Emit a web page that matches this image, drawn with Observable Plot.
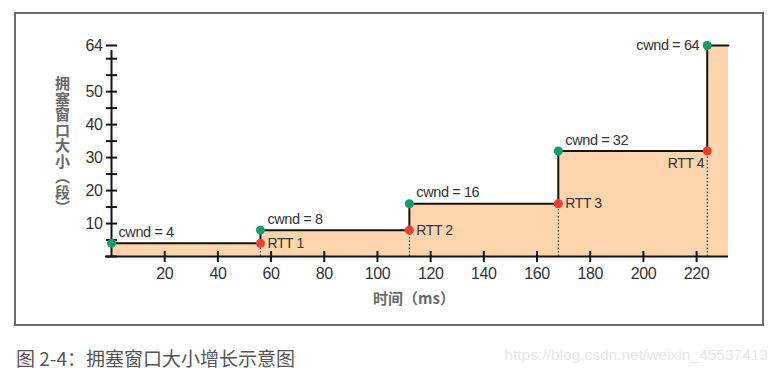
<!DOCTYPE html>
<html><head><meta charset="utf-8">
<script src="https://cdn.jsdelivr.net/npm/d3@7"></script>
<script src="https://cdn.jsdelivr.net/npm/@observablehq/plot@0.6"></script>
<style>
body{margin:0;background:#fff;width:780px;height:374px;position:relative;overflow:hidden}
#frame{position:absolute;left:14px;top:12px;width:750px;height:314px;border:2px solid #6a6a6a;box-sizing:border-box;background:#fff}
#chart{position:absolute;left:0;top:0}
#chart svg{font-stretch:condensed;letter-spacing:-0.4px}
#ylab{position:absolute;left:38px;top:62px;writing-mode:vertical-rl;font-family:"Noto Sans CJK SC",sans-serif;font-size:15px;font-weight:bold;color:#6a6a6a;line-height:16px;letter-spacing:0.5px}
#xlab{position:absolute;left:398px;top:283px;transform:translate(-50%,-50%);font-family:"Noto Sans CJK SC",sans-serif;font-size:15px;font-weight:bold;color:#6a6a6a;white-space:nowrap}
#caption{position:absolute;left:16px;top:346px;font-family:"Noto Sans CJK SC",sans-serif;font-size:19px;color:#555;white-space:nowrap;line-height:24px}
#wm{position:absolute;right:12px;top:344px;font-family:"Liberation Sans",sans-serif;font-size:15.5px;color:#e6e6e6;white-space:nowrap;line-height:22px}
</style></head><body>
<div id="frame"><div id="chart"></div><div id="ylab">拥塞窗口大小（段）</div><div id="xlab">时间（ms）</div></div>
<div id="caption">图 2-4：拥塞窗口大小增长示意图</div>
<div id="wm">https://blog.csdn.net/weixin_45537413</div>
<script>
// Data
const stepTimes = [0, 56, 112, 168, 224, 232];
const stepCwnd = [4, 8, 16, 32, 64, 64];
const cwndLabels = ["cwnd = 4", "cwnd = 8", "cwnd = 16", "cwnd = 32", "cwnd = 64"];
const rttTimes = [56, 112, 168, 224];
const rttCwnd = [4, 8, 16, 32];
const rttLabels = ["RTT 1", "RTT 2", "RTT 3", "RTT 4"];
const xTicks = [20, 40, 60, 80, 100, 120, 140, 160, 180, 200, 220];
const yTickLabels = [10, 20, 30, 40, 50, 64];
const yMinorTicks = [0, 5, 10, 15, 20, 25, 30, 35, 40, 45, 50, 55, 60, 64];

const steps = stepTimes.map((t, i) => ({t, w: stepCwnd[i]}));
const starts = cwndLabels.map((label, i) => ({t: stepTimes[i], w: stepCwnd[i], label}));
const rtts = rttTimes.map((t, i) => ({t, w: rttCwnd[i], label: rttLabels[i]}));

const vbar = {draw(ctx, size){const r = Math.sqrt(size / Math.PI); ctx.moveTo(0, -r); ctx.lineTo(0, r);}};
const hbar = {draw(ctx, size){const r = Math.sqrt(size / Math.PI); ctx.moveTo(-r, 0); ctx.lineTo(r, 0);}};

const green = "#129e68", red = "#f03c2c", ink = "#141414", txt = "#333";

const chart = Plot.plot({
  width: 746, height: 310,
  marginLeft: 95, marginRight: 34, marginTop: 31, marginBottom: 68,
  style: {fontFamily: "'Liberation Sans Narrow','Liberation Sans','DejaVu Sans Condensed',sans-serif", fontSize: "16px", color: txt, background: "transparent"},
  x: {domain: [0, 232], label: null},
  y: {domain: [0, 64], label: null},
  marks: [
    Plot.areaY(steps, {x: "t", y: "w", curve: "step-after", fill: "#fdd4ab"}),
    Plot.ruleX(rtts, {x: "t", y1: 0, y2: "w", stroke: ink, strokeWidth: 1, strokeDasharray: "1.5,2"}),
    Plot.lineY(steps, {x: "t", y: "w", curve: "step-after", stroke: ink, strokeWidth: 2}),
    Plot.ruleY([0], {stroke: ink, strokeWidth: 2, insetLeft: -6}),
    Plot.ruleX([0], {y1: 0, y2: 64, stroke: ink, strokeWidth: 2, insetBottom: -5}),
    Plot.dot(xTicks, {x: d => d, y: 0, symbol: vbar, r: 5.5, stroke: ink, strokeWidth: 2, fill: "none"}),
    Plot.dot(yMinorTicks, {x: 0, y: d => d, symbol: hbar, r: 5.5, stroke: ink, strokeWidth: 2, fill: "none"}),
    Plot.axisX({ticks: xTicks, tickSize: 0, tickPadding: 11, label: null, fontSize: 16, fill: txt}),
    Plot.axisY({ticks: yTickLabels, tickSize: 0, tickPadding: 9, label: null, fontSize: 16, fill: txt}),
    Plot.dot(starts, {x: "t", y: "w", r: 4.5, fill: green}),
    Plot.dot(rtts, {x: "t", y: "w", r: 4.5, fill: red}),
    Plot.text(starts.slice(0, 4), {x: "t", y: "w", text: "label", textAnchor: "start", dx: 7, dy: -11, fontSize: 14.5, fill: txt}),
    Plot.text(starts.slice(4), {x: "t", y: "w", text: "label", textAnchor: "end", dx: -8, dy: 0, fontSize: 14.5, fill: txt}),
    Plot.text(rtts.slice(0, 3), {x: "t", y: "w", text: "label", textAnchor: "start", dx: 7, dy: 0, fontSize: 14, fill: txt}),
    Plot.text(rtts.slice(3), {x: "t", y: "w", text: "label", textAnchor: "end", dx: -3, dy: 13, fontSize: 14, fill: txt})
  ]
});
document.getElementById("chart").appendChild(chart);
</script>
</body></html>
